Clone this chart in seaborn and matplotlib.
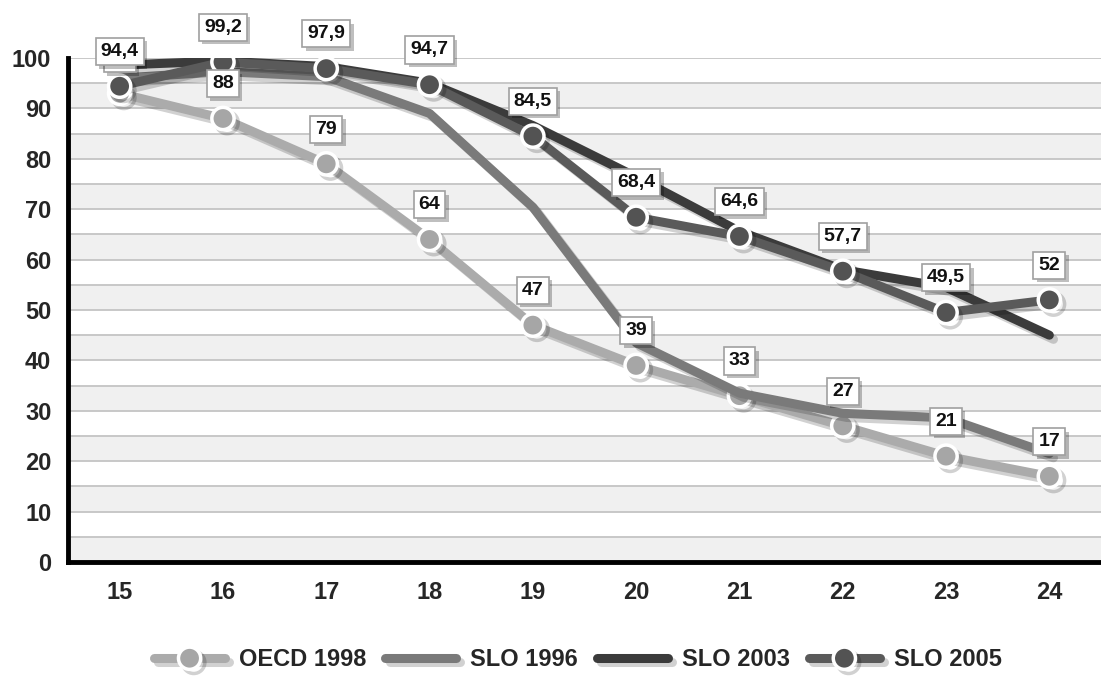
import numpy as np
import pandas as pd
import seaborn as sns
import matplotlib.pyplot as plt
import matplotlib.patheffects as pe

# Podatki
ages = ["15", "16", "17", "18", "19", "20", "21", "22", "23", "24"]
oecd_1998 = [93, 88, 79, 64, 47, 39, 33, 27, 21, 17]
slo_1996 = [96, 97.3, 96.3, 89, 70.4, 43.5, 33.5, 29.5, 28.6, 21.5]
slo_2003 = [98.6, 99.4, 98.3, 95, 86.6, 76.4, 65.6, 58, 54.5, 45]
slo_2005 = [94.4, 99.2, 97.9, 94.7, 84.5, 68.4, 64.6, 57.7, 49.5, 52]

series = ["OECD 1998", "SLO 1996", "SLO 2003", "SLO 2005"]
values = [oecd_1998, slo_1996, slo_2003, slo_2005]
colors = {"OECD 1998": "#ababab", "SLO 1996": "#7a7a7a",
          "SLO 2003": "#3b3b3b", "SLO 2005": "#5a5a5a"}
marker_fill = {"OECD 1998": "#a6a6a6", "SLO 2005": "#535353"}
labelled = ["OECD 1998", "SLO 2005"]

pos = np.arange(len(ages))
df = pd.concat([pd.DataFrame({"pos": pos, "value": v, "series": s})
                for s, v in zip(series, values)], ignore_index=True)

sns.set_style("white")
plt.rcParams["font.family"] = ["Liberation Sans", "DejaVu Sans"]
plt.rcParams["font.weight"] = "bold"

fig = plt.figure(figsize=(11.01, 6.80), dpi=100)
ax = fig.add_axes([68 / 1101, 118 / 680, 1033 / 1101, 504 / 680])

# pasovi ozadja in mreža
for lo in range(0, 100, 10):
    ax.axhspan(lo, lo + 5, color="#f0f0f0", zorder=0, lw=0)
for y in range(5, 101, 5):
    ax.axhline(y, color="#c4c4c4", lw=1.3, zorder=0.5)

shadow = [pe.SimpleLineShadow(offset=(3, -3), shadow_color="#000000", alpha=0.18),
          pe.Normal()]

for s in series:
    sub = df[df["series"] == s]
    has_marker = s in marker_fill
    sns.lineplot(data=sub, x="pos", y="value", ax=ax, color=colors[s], lw=6.5,
                 marker="o" if has_marker else None,
                 markersize=16, markerfacecolor=marker_fill.get(s, colors[s]),
                 markeredgecolor="white", markeredgewidth=2.5,
                 label=s, zorder=3, path_effects=shadow,
                 solid_capstyle="round", solid_joinstyle="round")

# oznake vrednosti
for s in labelled:
    sub = df[df["series"] == s]
    for x, v in zip(sub["pos"], sub["value"]):
        txt = f"{v:g}".replace(".", ",")
        t = ax.annotate(txt, (x, v), xytext=(0, 25), textcoords="offset points",
                        ha="center", va="center", fontsize=14, fontweight="bold",
                        color="#111111", zorder=5, annotation_clip=False,
                        bbox=dict(boxstyle="square,pad=0.26", fc="white",
                                  ec="#a0a0a0", lw=1.2))
        t.get_bbox_patch().set_path_effects(
            [pe.SimplePatchShadow(offset=(2.5, -2.5), shadow_rgbFace="#000000", alpha=0.25),
             pe.Normal()])

ax.set_xlim(-0.5, 9.43)
ax.set_ylim(0, 100)
ax.set_yticks(range(0, 101, 10))
ax.set_xticks(pos)
ax.set_xticklabels(ages)
ax.set_xticks(np.arange(-0.5, 9.6, 1), minor=True)
ax.tick_params(axis="x", which="major", length=0, pad=14, labelsize=17)
ax.tick_params(axis="x", which="minor", length=9, width=3.5, direction="out", color="black")
ax.tick_params(axis="y", length=9, width=3.5, direction="out", color="black",
               labelsize=17, pad=3)
for lab in ax.get_xticklabels() + ax.get_yticklabels():
    lab.set_fontweight("bold")
ax.set_xlabel("")
ax.set_ylabel("")

for side in ["top", "right"]:
    ax.spines[side].set_visible(False)
for side in ["left", "bottom"]:
    ax.spines[side].set_linewidth(3.5)
    ax.spines[side].set_color("black")
    ax.spines[side].set_zorder(6)

handles, labels = ax.get_legend_handles_labels()
ax.get_legend().remove()
fig.legend(handles, labels, loc="center", bbox_to_anchor=(578 / 1101, 1 - 660 / 680),
           ncol=4, frameon=False, handlelength=3.0,
           columnspacing=0.8, handletextpad=0.6, prop={"weight": "bold", "size": 17})

fig.savefig("out.png", dpi=100)
plt.close(fig)
